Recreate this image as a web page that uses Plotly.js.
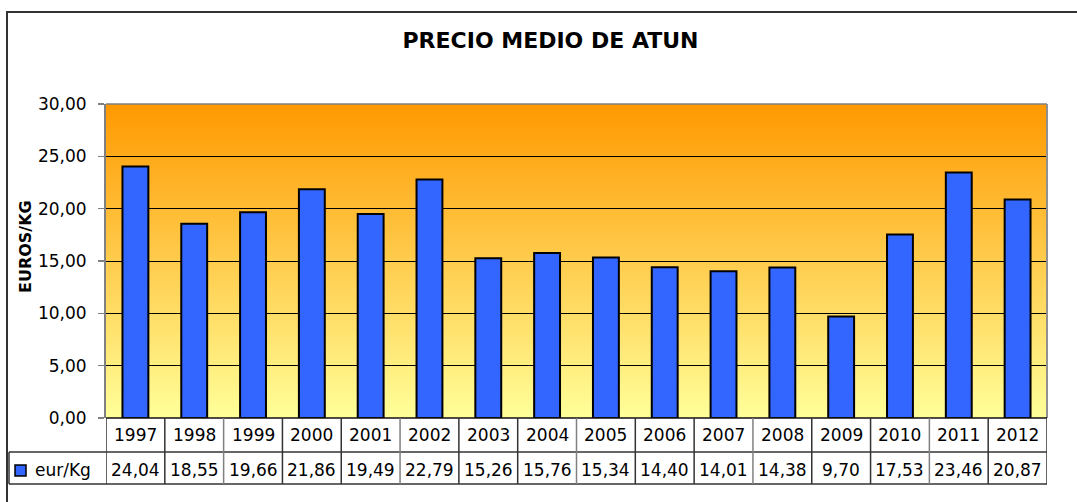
<!DOCTYPE html>
<html>
<head>
<meta charset="utf-8">
<script src="https://cdn.plot.ly/plotly-3.0.1.min.js"></script>
<style>html,body{margin:0;padding:0;background:#fff;}#chart{width:1077px;height:502px;}</style>
</head>
<body>
<div id="chart"></div>
<script>
// ---- data ----
const years = ['1997','1998','1999','2000','2001','2002','2003','2004','2005','2006','2007','2008','2009','2010','2011','2012'];
const eurKg = [24.04, 18.55, 19.66, 21.86, 19.49, 22.79, 15.26, 15.76, 15.34, 14.40, 14.01, 14.38, 9.70, 17.53, 23.46, 20.87];
const seriesName = 'eur/Kg';
const chartTitle = 'PRECIO MEDIO DE ATUN';
const yTitle = 'EUROS/KG';

// ---- layout helpers (pixel geometry of the reference) ----
const W = 1077, H = 502;
const mL = 106, mR = 30, mT = 104, mB = 84;
const pw = W - mL - mR, ph = H - mT - mB;
const px2x = p => (p - mL) / pw;          // pixel x -> paper x
const py2y = p => (H - mB - p) / ph;      // pixel y -> paper y

const FONT = 'DejaVu Sans, Arial, sans-serif';
const fmt = v => v.toFixed(2).replace('.', ',');

const gradSvg = '<svg xmlns="http://www.w3.org/2000/svg" width="10" height="100" preserveAspectRatio="none">' +
  '<defs><linearGradient id="g" x1="0" y1="0" x2="0" y2="1">' +
  '<stop offset="0" stop-color="#FF9900"/><stop offset="1" stop-color="#FFFF99"/>' +
  '</linearGradient></defs><rect width="10" height="100" fill="url(#g)"/></svg>';
const gradUri = 'data:image/svg+xml;charset=utf-8,' + encodeURIComponent(gradSvg);

const rowTop = py2y(418), rowMid = py2y(452), rowBot = py2y(484);
const lineCol = '#333333';
const shapes = [];
// outer chart frame (top and left edges visible)
shapes.push({type:'rect', xref:'paper', yref:'paper', x0:px2x(7), x1:px2x(1200), y0:py2y(12), y1:py2y(600),
  line:{color:'#333333', width:2}, fillcolor:'rgba(0,0,0,0)', layer:'below'});
// plot area border
shapes.push({type:'line', xref:'paper', yref:'paper', x0:0, x1:1, y0:1, y1:1, line:{color:'#808080', width:1.5}});
shapes.push({type:'line', xref:'paper', yref:'paper', x0:1, x1:1, y0:0, y1:1, line:{color:'#909090', width:2}});
// table horizontal lines
shapes.push({type:'line', xref:'paper', yref:'paper', x0:0, x1:1, y0:rowTop, y1:rowTop, line:{color:'#111', width:1.5}});
shapes.push({type:'line', xref:'paper', yref:'paper', x0:px2x(9), x1:1, y0:rowMid, y1:rowMid, line:{color:lineCol, width:1.5}});
shapes.push({type:'line', xref:'paper', yref:'paper', x0:px2x(9), x1:1, y0:rowBot, y1:rowBot, line:{color:lineCol, width:1.5}});
// table vertical lines (column boundaries from the category axis)
const bounds = [-0.5].concat(years.map((_, i) => i + 0.5));
bounds.forEach((b, k) => {
  shapes.push({type:'line', xref:'x', yref:'paper', x0:b, x1:b, y0:rowTop, y1:rowBot,
    line:{color: (k % 3 === 2) ? '#808080' : lineCol, width:1.5}});
});
// legend cell left edge
shapes.push({type:'line', xref:'paper', yref:'paper', x0:px2x(9), x1:px2x(9), y0:rowMid, y1:rowBot, line:{color:lineCol, width:1.5}});
// legend key
shapes.push({type:'rect', xref:'paper', yref:'paper', x0:px2x(15), x1:px2x(26), y0:py2y(465), y1:py2y(476),
  fillcolor:'#3366FF', line:{color:'#000', width:1.5}});

const annotations = [];
years.forEach((y, i) => {
  annotations.push({x:i, xref:'x', y:py2y(434.5), yref:'paper', text:y, showarrow:false,
    xanchor:'center', yanchor:'middle', font:{family:FONT, size:17, color:'#000'}});
  annotations.push({x:i, xref:'x', y:py2y(470), yref:'paper', text:fmt(eurKg[i]), showarrow:false,
    xanchor:'center', yanchor:'middle', font:{family:FONT, size:17, color:'#000'}});
});
annotations.push({x:px2x(33), xref:'paper', y:py2y(470), yref:'paper', text:seriesName, showarrow:false,
  xanchor:'left', yanchor:'middle', font:{family:FONT, size:17, color:'#000'}});
annotations.push({x:px2x(25), xref:'paper', y:py2y(247), yref:'paper', text:'<b>' + yTitle + '</b>', showarrow:false,
  textangle:-90, xanchor:'center', yanchor:'middle', font:{family:FONT, size:16, color:'#000'}});

const trace = {
  type:'bar', x:years, y:eurKg, name:seriesName,
  marker:{color:'#3366FF', line:{color:'#000000', width:2}},
  hoverinfo:'x+y'
};

const layout = {
  width:W, height:H, autosize:false,
  margin:{l:mL, r:mR, t:mT, b:mB, pad:0},
  paper_bgcolor:'#ffffff', plot_bgcolor:'rgba(0,0,0,0)',
  separators:', ',
  showlegend:false,
  bargap:0.56,
  title:{text:'<b>' + chartTitle + '</b>', x:px2x(550.5), xref:'paper', xanchor:'center',
    y:1 - 40/H, yref:'container', yanchor:'middle', font:{family:FONT, size:22, color:'#000'}},
  xaxis:{type:'category', range:[-0.5, years.length - 0.5], showticklabels:false, ticks:'',
    showgrid:false, zeroline:false, showline:false, fixedrange:true},
  yaxis:{range:[0, 30], dtick:5, tick0:0, tickformat:'.2f', ticks:'outside', ticklen:6, tickwidth:1.5,
    tickcolor:'#808080', showline:true, linecolor:'#808080', linewidth:2,
    showgrid:true, gridcolor:'#000000', gridwidth:1, zeroline:false,
    ticklabelstandoff:8,
    tickfont:{family:FONT, size:17, color:'#000'}, fixedrange:true},
  images:[{source:gradUri, xref:'paper', yref:'paper', x:0, y:1, sizex:1, sizey:1,
    sizing:'stretch', xanchor:'left', yanchor:'top', layer:'below'}],
  shapes:shapes,
  annotations:annotations
};

Plotly.newPlot('chart', [trace], layout, {displayModeBar:false, staticPlot:true});
</script>
</body>
</html>
